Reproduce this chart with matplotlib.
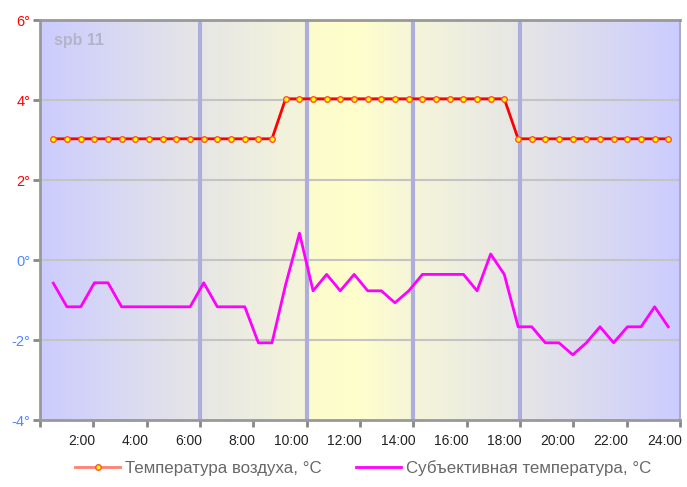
import matplotlib
matplotlib.use("Agg")
import matplotlib.pyplot as plt
import matplotlib.transforms as mtransforms
from matplotlib.colors import LinearSegmentedColormap
from matplotlib.lines import Line2D
import numpy as np

plt.rcParams['font.family'] = ['Liberation Sans', 'DejaVu Sans']

# ---- data ----
hours = [0.50, 1.01, 1.53, 2.04, 2.55, 3.06, 3.58, 4.09, 4.60, 5.11,
         5.63, 6.14, 6.65, 7.16, 7.68, 8.19, 8.70, 9.21, 9.73, 10.24,
         10.75, 11.26, 11.78, 12.29, 12.80, 13.31, 13.83, 14.34, 14.85, 15.36,
         15.88, 16.39, 16.90, 17.41, 17.93, 18.44, 18.95, 19.46, 19.98, 20.49,
         21.00, 21.51, 22.03, 22.54, 23.05, 23.56]
air_temp = [3.03] * 17 + [4.03] * 17 + [3.03] * 12
feel_temp = [-0.58, -1.17, -1.17, -0.57, -0.57, -1.17, -1.17, -1.17, -1.17, -1.17,
             -1.17, -0.57, -1.17, -1.17, -1.17, -2.07, -2.07, -0.62, 0.67, -0.77,
             -0.36, -0.77, -0.36, -0.77, -0.77, -1.07, -0.77, -0.36, -0.36, -0.36,
             -0.36, -0.77, 0.15, -0.36, -1.67, -1.67, -2.07, -2.07, -2.37, -2.07,
             -1.67, -2.07, -1.67, -1.67, -1.17, -1.67]
x_ticks = [0, 2, 4, 6, 8, 10, 12, 14, 16, 18, 20, 22, 24]
x_labels = ["", "2:00", "4:00", "6:00", "8:00", "10:00", "12:00", "14:00",
            "16:00", "18:00", "20:00", "22:00", "24:00"]
y_ticks = [-4, -2, 0, 2, 4, 6]
y_labels = ["-4°", "-2°", "0°", "2°", "4°", "6°"]
day_lines = [6, 10, 14, 18]
station = "spb 11"
series_names = ["Температура воздуха, °C", "Субъективная температура, °C"]

W, H = 687, 487
fig = plt.figure(figsize=(W / 100, H / 100), dpi=100)
ax = fig.add_axes([40 / W, (H - 420) / H, 640 / W, 400 / H])
ax.set_xlim(0, 24)
ax.set_ylim(-4, 6)

# background gradient
stops = [(0.0, "#ccccff"), (6 / 24, "#e6e6e6"), (9.99 / 24, "#f5f5da"),
         (10.01 / 24, "#fbfbcd"), (11.8 / 24, "#ffffcc"), (14 / 24, "#f5f5da"),
         (18 / 24, "#e6e6e6"), (1.0, "#ccccff")]
cmap = LinearSegmentedColormap.from_list("bg", stops)
grad = np.linspace(0, 1, 1000).reshape(1, -1)
ax.imshow(grad, extent=[0, 24, -4, 6], aspect="auto", cmap=cmap, zorder=0,
          interpolation="bilinear")

# grid
for yv in [-2, 0, 2, 4]:
    ax.axhline(yv, color="#c4c4c4", lw=1.5, zorder=1)
for xv in day_lines:
    ax.axvline(xv, color="#aeaedc", lw=3, zorder=1)

# series
ax.plot(hours, air_temp, color="#ff0000", lw=2, marker="o", ms=4,
        mfc="#ffff00", mec="#ff5030", mew=1, zorder=4)
ax.plot(hours, feel_temp, color="#ff00ff", lw=2, zorder=3)

# spines
for s in ["left", "bottom", "top"]:
    ax.spines[s].set_color("#999999")
    ax.spines[s].set_linewidth(2)
ax.spines["right"].set_color("#aaaacc")
ax.spines["right"].set_linewidth(1.5)

# ticks
ax.set_xticks(x_ticks)
ax.set_xticklabels(x_labels, fontsize=10, color="#222222")
ax.set_yticks(y_ticks)
ax.set_yticklabels(y_labels, fontsize=10.5)
ax.tick_params(axis="both", direction="out", length=5, width=2, color="#888888")
ax.tick_params(axis="x", pad=5)
ax.tick_params(axis="y", pad=2)
for lbl, yv in zip(ax.get_yticklabels(), y_ticks):
    lbl.set_color("#ff0000" if yv > 0 else "#4d88ff")
offset = mtransforms.ScaledTranslation(2 / 100, 0, fig.dpi_scale_trans)
for lbl in ax.get_xticklabels():
    lbl.set_ha("right")
    lbl.set_transform(lbl.get_transform() + offset)

# station label
ax.text(14 / 640, 1 - 20 / 400, station, transform=ax.transAxes, fontsize=11.5,
        fontweight="bold", color="#b4b4c8", ha="left", va="center")

# legend
h1 = Line2D([], [], color="#ff8070", lw=2, marker="o", ms=4, mfc="#ffff00",
            mec="#ff5030")
h2 = Line2D([], [], color="#ff00ff", lw=2)
fig.legend([h1, h2], series_names, loc="center",
           bbox_to_anchor=(363 / W, (H - 468) / H),
           ncol=2, frameon=False, fontsize=12.2, labelcolor="#686868",
           handlelength=2.65, columnspacing=2.0, handletextpad=0.3)

fig.savefig("out.png", dpi=100)
